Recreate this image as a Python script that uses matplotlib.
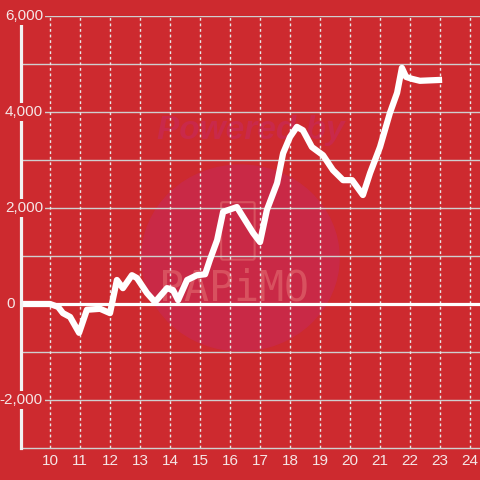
import matplotlib
matplotlib.use("Agg")
import matplotlib.pyplot as plt
from matplotlib.patches import Circle, FancyBboxPatch
from matplotlib.transforms import blended_transform_factory

# hour of day / balance
hours = [9.0, 10.0, 10.27, 10.43, 10.67, 10.97, 11.23, 11.67, 12.0, 12.23, 12.43,
         12.73, 12.9, 13.23, 13.5, 13.9, 14.1, 14.27, 14.57, 14.9, 15.17, 15.33,
         15.57, 15.77, 16.23, 16.5, 16.77, 17.0, 17.23, 17.57, 17.77, 18.0, 18.23,
         18.43, 18.73, 19.1, 19.43, 19.77, 20.07, 20.43, 20.67, 21.0, 21.33, 21.57,
         21.73, 21.87, 22.07, 22.33, 23.07]
balance = [0, 0, -60, -190, -270, -600, -120, -100, -190, 500, 330,
           600, 540, 230, 40, 330, 290, 80, 500, 600, 620, 920,
           1330, 1920, 2020, 1750, 1480, 1290, 1960, 2520, 3140, 3480, 3690,
           3620, 3270, 3100, 2790, 2580, 2580, 2270, 2730, 3270, 3980, 4400,
           4920, 4730, 4690, 4650, 4670]

x_ticks = list(range(10, 25))
y_ticks = [-2000, 0, 2000, 4000, 6000]
y_grid = list(range(-2000, 7000, 1000))

bg = "#cd2a2f"
txt = "#f5e6e6"
plt.rcParams["font.family"] = ["Liberation Sans", "DejaVu Sans"]

fig = plt.figure(figsize=(4.8, 4.8), dpi=100, facecolor=bg)
ax = fig.add_axes([21 / 480, 32 / 480, 459 / 480, 432 / 480])
ax.set_facecolor(bg)
ax.set_xlim(9.033, 24.333)
ax.set_ylim(-3000, 6000)

# watermark
wm = Circle((0.478, 0.44), 0.215, transform=ax.transAxes, color="#c92946", zorder=0)
ax.add_patch(wm)
ax.text(0.5, 0.735, "Powered by", transform=ax.transAxes, ha="center", va="center",
        fontsize=24, fontweight="bold", style="italic", color="#c9294a", zorder=0.5)
ax.add_patch(FancyBboxPatch((0.44, 0.44), 0.065, 0.125, transform=ax.transAxes,
                            boxstyle="round,pad=0.004", fill=False,
                            ec="#d8515f", lw=1.5, zorder=0.5))
ax.text(0.465, 0.37, "PAPiMO", transform=ax.transAxes, ha="center", va="center",
        fontsize=30, family="DejaVu Sans Mono", color="#d8515f", zorder=0.5)

# grid
for v in y_grid:
    ax.axhline(v, color="#cfcfcf", lw=1, zorder=1)
for h in x_ticks:
    ax.axvline(h, color="#e8e8e8", lw=1, ls=(0, (2, 2)), zorder=1)
ax.axhline(0, color="white", lw=2.3, zorder=2)

ax.plot(hours, balance, color="white", lw=4.5, solid_joinstyle="round",
        solid_capstyle="butt", zorder=3)

for s in ["top", "right"]:
    ax.spines[s].set_visible(False)
ax.spines["left"].set_color("#f2f2f2")
ax.spines["left"].set_linewidth(2.3)
ax.spines["left"].set_bounds(-3000, 5830)
ax.spines["left"].set_zorder(4)
ax.spines["bottom"].set_color("#d0d0d0")
ax.spines["bottom"].set_linewidth(1)

ax.set_yticks([])
ax.set_xticks(x_ticks)
ax.set_xticklabels([str(h) for h in x_ticks], fontsize=11, color=txt)
ax.tick_params(axis="x", length=0, pad=4)

tr = blended_transform_factory(ax.transAxes, ax.transData)
for v in y_ticks:
    xpos = 22 / 459 if v != 0 else -6 / 459
    ax.text(xpos, v, f"{v:,}", transform=tr, ha="right", va="center",
            fontsize=11, color=txt, zorder=5, clip_on=False,
            bbox=dict(boxstyle="square,pad=0.1", fc=bg, ec="none"))

fig.savefig("out.png", dpi=100, facecolor=bg)
